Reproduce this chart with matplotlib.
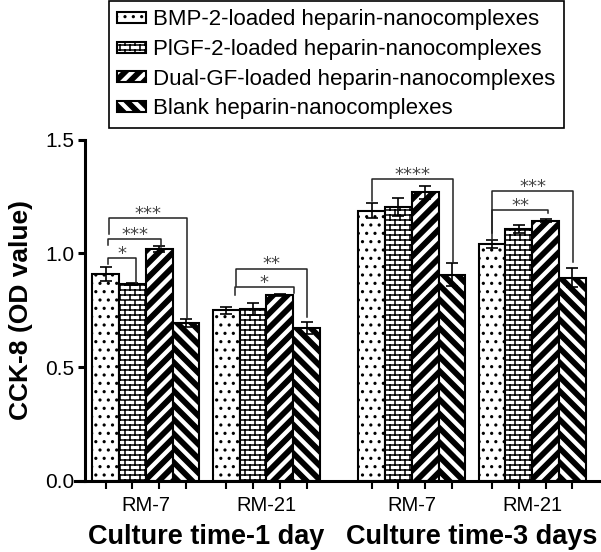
import warnings
import numpy as np
import matplotlib
matplotlib.use("Agg")
import matplotlib.pyplot as plt
from matplotlib import hatch as mhatch
from matplotlib.path import Path
from matplotlib.transforms import blended_transform_factory

warnings.filterwarnings("ignore")

plt.rcParams["font.family"] = ["Liberation Sans", "DejaVu Sans"]
plt.rcParams["hatch.linewidth"] = 1.1

# ---------------- data ----------------
series = ["BMP-2-loaded heparin-nanocomplexes",
          "PlGF-2-loaded heparin-nanocomplexes",
          "Dual-GF-loaded heparin-nanocomplexes",
          "Blank heparin-nanocomplexes"]
group_labels = ["RM-7", "RM-21", "RM-7", "RM-21"]
day_labels = ["Culture time-1 day", "Culture time-3 days"]

bmp = [0.909, 0.750, 1.188, 1.041]
plgf = [0.864, 0.754, 1.203, 1.107]
dual = [1.019, 0.817, 1.269, 1.144]
blank = [0.692, 0.673, 0.906, 0.893]

bmp_err = [0.030, 0.016, 0.032, 0.018]
plgf_err = [0.005, 0.026, 0.040, 0.017]
dual_err = [0.012, 0.005, 0.029, 0.005]
blank_err = [0.018, 0.027, 0.050, 0.041]

# significance brackets: group, left end, right end (bar index in group),
# bracket height, left leg bottom, right leg bottom, label
brackets = [
    (0, 0.10, 1.15, 0.978, 0.953, 0.868, "*"),
    (0, 0.10, 2.07, 1.062, 1.037, 1.029, "***"),
    (0, 0.13, 3.04, 1.154, 1.085, 0.716, "***"),
    (1, 0.32, 2.54, 0.852, 0.817, 0.827, "*"),
    (1, 0.36, 3.01, 0.933, 0.857, 0.721, "**"),
    (2, 0.00, 3.05, 1.327, 1.232, 0.963, "****"),
    (3, 0.00, 3.04, 1.275, 1.088, 0.963, "***"),
    (3, 0.00, 2.11, 1.191, 1.059, 1.176, "**"),
]


# ---------------- custom hatches (bricks, thick stripes) ----------------
class Bricks(mhatch.HatchPatternBase):
    rows, cols = 20, 10

    def __init__(self, hatch, density):
        self.num_vertices = 0
        if "b" in hatch:
            self.num_vertices = 2 * (self.rows + 1) + 2 * self.rows * (self.cols + 1)

    def set_vertices_and_codes(self, vertices, codes):
        k = 0
        for r in range(self.rows + 1):
            y = r / self.rows
            vertices[k] = (0, y)
            vertices[k + 1] = (1, y)
            k += 2
        for r in range(self.rows):
            y0, y1 = r / self.rows, (r + 1) / self.rows
            shift = 0.5 * (r % 2)
            for c in range(self.cols + 1):
                x = (c + shift) / self.cols
                vertices[k] = (x, y0)
                vertices[k + 1] = (x, y1)
                k += 2
        codes[0::2] = Path.MOVETO
        codes[1::2] = Path.LINETO


class Stripes(mhatch.HatchPatternBase):
    n, w = 7, 0.06

    def __init__(self, hatch, density):
        self.sign = 1 if "d" in hatch else (-1 if "k" in hatch else 0)
        self.num_vertices = 5 * (2 * self.n + 2) if self.sign else 0

    def set_vertices_and_codes(self, vertices, codes):
        k = 0
        for i in range(-self.n - 1, self.n + 1):
            a = i / self.n
            pts = [(-0.1, -0.1 + a), (1.1, 1.1 + a), (1.1, 1.1 + a + self.w),
                   (-0.1, -0.1 + a + self.w), (-0.1, -0.1 + a)]
            for j, (px, py) in enumerate(pts):
                vertices[k + j] = (px, py if self.sign > 0 else 1 - py)
            codes[k] = Path.MOVETO
            codes[k + 1:k + 4] = Path.LINETO
            codes[k + 4] = Path.CLOSEPOLY
            k += 5


mhatch._hatch_types.extend([Bricks, Stripes])

# ---------------- figure ----------------
fig = plt.figure(figsize=(6.01, 5.52), dpi=100)
ax = fig.add_axes([75 / 601, 71.3 / 552, 526 / 601, 341 / 552])

starts = np.array([0, 4.5, 9.93, 14.42])
values = [bmp, plgf, dual, blank]
errors = [bmp_err, plgf_err, dual_err, blank_err]
hatches = ["..", "b", "d", "k"]

handles = []
for s, (vals, err, h, lab) in enumerate(zip(values, errors, hatches, series)):
    x = starts + s
    bars = ax.bar(x, vals, width=1.0, color="white", edgecolor="black",
                  linewidth=1.5, hatch=h, label=lab, zorder=2)
    ax.errorbar(x, vals, yerr=err, fmt="none", ecolor="black", elinewidth=1.2,
                capsize=4, capthick=1.2, zorder=3)
    handles.append(bars)

for g, a, b, top, lb, rb, lab in brackets:
    x1, x2 = starts[g] + a, starts[g] + b
    ax.plot([x1, x1, x2, x2], [lb, top, top, rb], color="#222222", lw=1.1,
            zorder=4, clip_on=False)
    ax.text((x1 + x2) / 2, top - 0.003, lab, ha="center", va="baseline",
            fontsize=13, color="#444444", family="DejaVu Sans")

ax.set_xlim(-1.14, 18.49)
ax.set_ylim(0, 1.5)
for side in ["top", "right"]:
    ax.spines[side].set_visible(False)
ax.spines["left"].set_position(("data", -0.76))
ax.spines["left"].set_linewidth(2.2)
ax.spines["bottom"].set_linewidth(2.2)

ax.set_yticks([0, 0.5, 1.0, 1.5])
ax.set_yticklabels(["0.0", "0.5", "1.0", "1.5"])
ax.tick_params(axis="y", length=5, width=2.2, labelsize=15, pad=3)

bar_pos = np.sort(np.concatenate([starts + s for s in range(4)]))
ax.set_xticks(bar_pos)
ax.set_xticklabels([])
ax.tick_params(axis="x", length=5.5, width=1.5)

trans = blended_transform_factory(ax.transData, ax.transAxes)
for st, lab in zip(starts, group_labels):
    ax.text(st + 1.5, -25 / 341, lab, transform=trans, ha="center", va="center",
            fontsize=14.5)
for k, lab in enumerate(day_labels):
    xc = (starts[2 * k] + starts[2 * k + 1] + 3) / 2
    ax.text(xc, -56 / 341, lab, transform=trans, ha="center", va="center",
            fontsize=19.5, fontweight="bold")

fig.text(21 / 601, 1 - 310 / 552, "CCK-8 (OD value)", rotation=90,
         ha="center", va="center", fontsize=19, fontweight="bold")

leg = fig.legend(handles=handles, loc="upper left",
                 bbox_to_anchor=(109 / 601, 1 - 1 / 552), fontsize=16,
                 frameon=True, fancybox=False, framealpha=1, edgecolor="black",
                 borderpad=0.38, labelspacing=0.39, handlelength=1.3,
                 handleheight=0.4, handletextpad=0.3, borderaxespad=0)
leg.get_frame().set_linewidth(1.2)

fig.savefig("out.png", dpi=100)
